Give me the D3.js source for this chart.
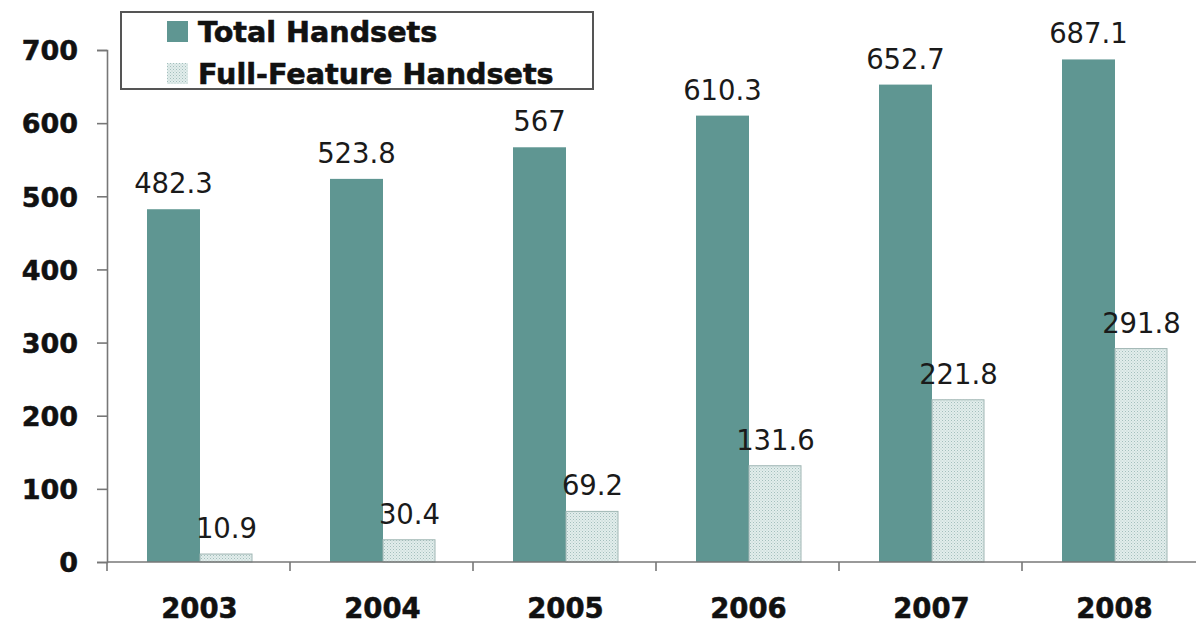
<!DOCTYPE html>
<html>
<head>
<meta charset="utf-8">
<script src="https://cdn.jsdelivr.net/npm/d3@7"></script>
<style>
  html, body { margin: 0; padding: 0; background: #fff; }
  svg { display: block; }
</style>
</head>
<body>
<svg id="chart" width="1196" height="624"></svg>
<script>
const years = ["2003", "2004", "2005", "2006", "2007", "2008"];
const totalHandsets = [482.3, 523.8, 567, 610.3, 652.7, 687.1];
const fullFeatureHandsets = [10.9, 30.4, 69.2, 131.6, 221.8, 291.8];
const totalLabels = ["482.3", "523.8", "567", "610.3", "652.7", "687.1"];
const fullLabels = ["10.9", "30.4", "69.2", "131.6", "221.8", "291.8"];
const yTicks = [0, 100, 200, 300, 400, 500, 600, 700];
const seriesNames = ["Total Handsets", "Full-Feature Handsets"];

const svg = d3.select("#chart");
const FONT = "'DejaVu Sans', Verdana, sans-serif";
const TEAL = "#5f9692";

// pattern for full-feature bars
const defs = svg.append("defs");
const pat = defs.append("pattern")
  .attr("id", "dots").attr("patternUnits", "userSpaceOnUse")
  .attr("width", 3).attr("height", 3);
pat.append("rect").attr("width", 3).attr("height", 3).attr("fill", "#e2edec");
pat.append("rect").attr("x", 0).attr("y", 0).attr("width", 1).attr("height", 1).attr("fill", "#a3bfbc");
pat.append("rect").attr("x", 1.5).attr("y", 1.5).attr("width", 1).attr("height", 1).attr("fill", "#b6cecb");

const x0 = 107, y0 = 562;
const y = d3.scaleLinear().domain([0, 700]).range([y0, 50]);
const x = d3.scaleBand().domain(years).range([x0, x0 + 6 * 183]).paddingInner(0).paddingOuter(0);
const xs = d3.scaleBand().domain(["total", "full"]).range([40, 146]);

// Y axis
const yAxis = d3.axisLeft(y).tickValues(yTicks).tickSize(10).tickPadding(19).tickFormat(d3.format("d"));
const gy = svg.append("g").attr("transform", `translate(${x0},0)`).call(yAxis);
gy.select(".domain").attr("stroke", "#777").attr("stroke-width", 1.6);
gy.selectAll(".tick line").attr("stroke", "#777").attr("stroke-width", 1.6);
gy.selectAll(".tick text").attr("font-family", FONT).attr("font-weight", "bold")
  .attr("font-size", 27).attr("fill", "#111").attr("stroke", "#111").attr("stroke-width", 0.5)
  .attr("dy", "0.36em");

// bars
const data = years.map((yr, i) => ({ yr, t: totalHandsets[i], f: fullFeatureHandsets[i], tl: totalLabels[i], fl: fullLabels[i] }));
const g = svg.append("g");
g.selectAll("rect.total").data(data).join("rect")
  .attr("x", d => x(d.yr) + xs("total")).attr("width", xs.bandwidth())
  .attr("y", d => y(d.t)).attr("height", d => y0 - y(d.t)).attr("fill", TEAL);
g.selectAll("rect.full").data(data).join("rect")
  .attr("x", d => x(d.yr) + xs("full")).attr("width", xs.bandwidth() - 1)
  .attr("y", d => y(d.f)).attr("height", d => y0 - y(d.f))
  .attr("fill", "url(#dots)").attr("stroke", "#a0b6b4").attr("stroke-width", 1);

// X axis
const gx = svg.append("g").attr("transform", `translate(0,${y0})`);
gx.append("line").attr("x1", x0).attr("x2", 1196).attr("y1", 0).attr("y2", 0)
  .attr("stroke", "#777").attr("stroke-width", 1.6);
gx.selectAll("line.tk").data(years.concat(["end"])).join("line")
  .attr("x1", (d, i) => x0 + i * x.bandwidth()).attr("x2", (d, i) => x0 + i * x.bandwidth())
  .attr("y1", 0).attr("y2", 9).attr("stroke", "#777").attr("stroke-width", 1.6);
gx.selectAll("text.yr").data(years).join("text")
  .attr("x", d => x(d) + x.bandwidth() / 2 + 1).attr("y", 56)
  .attr("text-anchor", "middle").attr("font-family", FONT).attr("font-weight", "bold")
  .attr("font-size", 27.5).attr("fill", "#111").attr("stroke", "#111").attr("stroke-width", 0.5)
  .text(d => d);

// value labels
g.selectAll("text.tl").data(data).join("text")
  .attr("x", d => x(d.yr) + xs("total") + xs.bandwidth() / 2)
  .attr("y", d => y(d.t) - 16)
  .attr("text-anchor", "middle").attr("font-family", FONT).attr("font-size", 27.5)
  .attr("fill", "#1a1a1a").text(d => d.tl);
g.selectAll("text.fl").data(data).join("text")
  .attr("x", d => x(d.yr) + xs("full") + xs.bandwidth() / 2)
  .attr("y", d => y(d.f) - 16)
  .attr("text-anchor", "middle").attr("font-family", FONT).attr("font-size", 27.5)
  .attr("fill", "#1a1a1a").text(d => d.fl);

// legend
const lg = svg.append("g");
lg.append("rect").attr("x", 121).attr("y", 12).attr("width", 472).attr("height", 77)
  .attr("fill", "#fff").attr("stroke", "#555").attr("stroke-width", 2);
const items = lg.selectAll("g.item").data(seriesNames).join("g")
  .attr("transform", (d, i) => `translate(167,${21 + i * 42})`);
items.append("rect").attr("width", 21).attr("height", 21)
  .attr("fill", (d, i) => i === 0 ? TEAL : "url(#dots)");
items.append("text").attr("x", 31).attr("y", 21)
  .attr("font-family", FONT).attr("font-weight", "bold").attr("font-size", 28.6)
  .attr("fill", "#111").attr("stroke", "#111").attr("stroke-width", 0.6)
  .text(d => d);
</script>
</body>
</html>
